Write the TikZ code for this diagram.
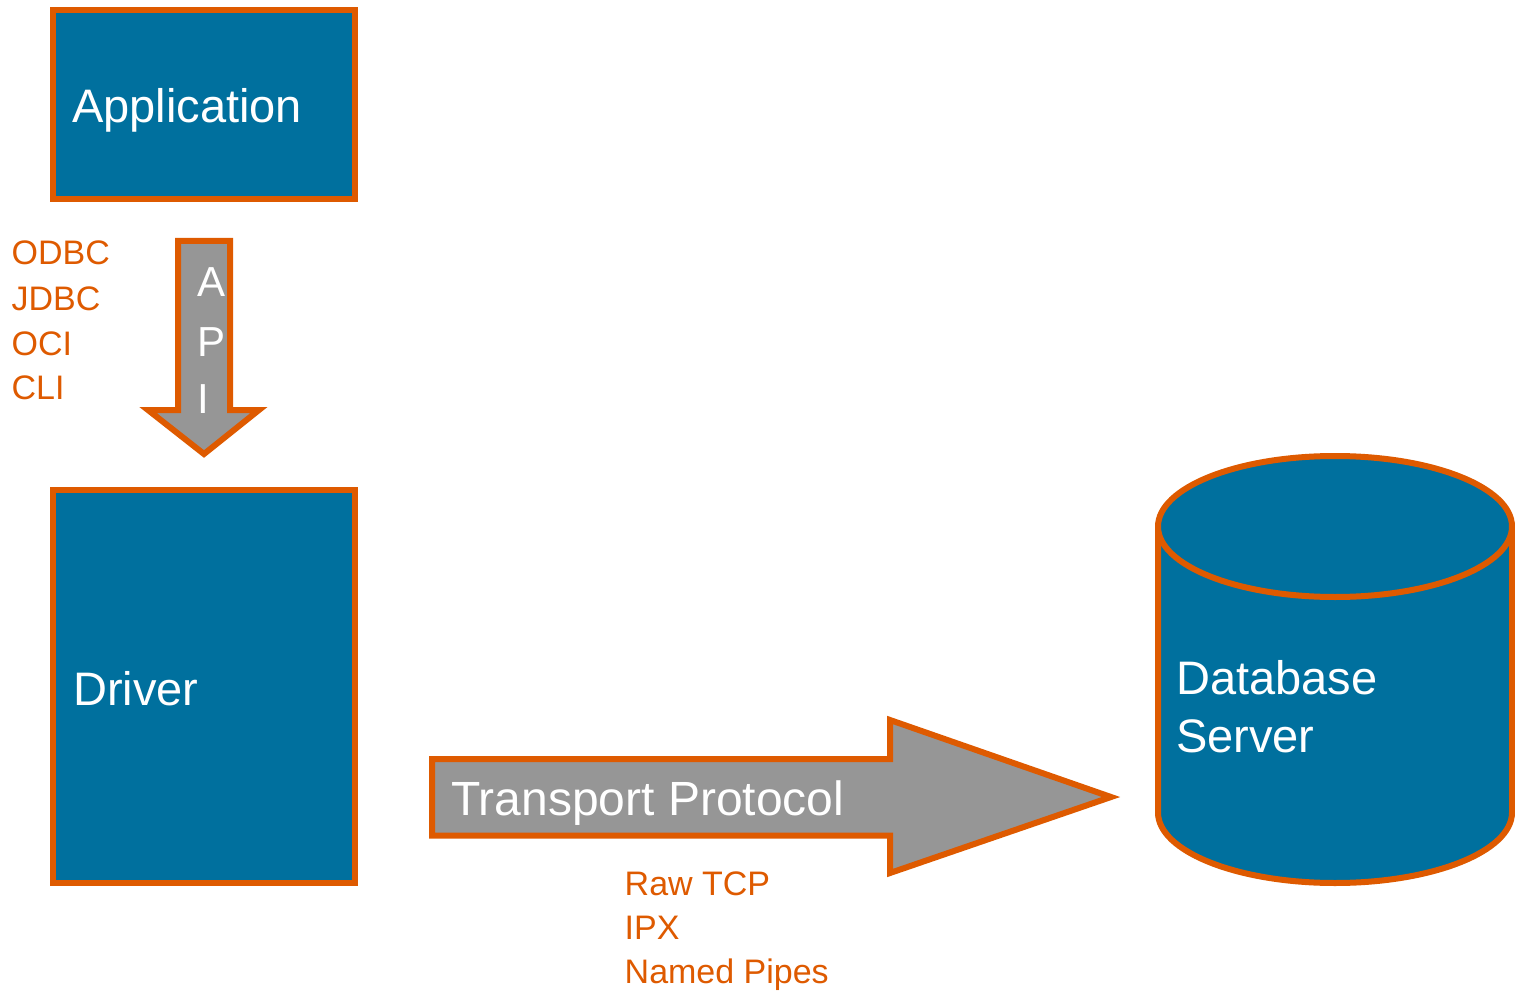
\documentclass[tikz,border=0pt]{standalone}
\usepackage{fontspec}
\setmainfont{Liberation Sans}
\definecolor{boxblue}{RGB}{0,112,158}
\definecolor{rimorange}{RGB}{222,90,0}
\definecolor{arrowgray}{RGB}{150,150,150}
\begin{document}
\begin{tikzpicture}[x=1pt,y=-1pt,
  rim/.style={draw=rimorange,line width=6pt,line join=miter},
  blockbox/.style={rim,fill=boxblue,inner sep=0pt,outer sep=0pt,anchor=north west},
  blockarrow/.style={rim,fill=arrowgray},
  bigtext/.style={text=white,inner sep=0pt,anchor=base west,font=\fontsize{47}{56}\selectfont},
  apitext/.style={text=white,inner sep=0pt,anchor=base west,font=\fontsize{42}{50}\selectfont},
  smalltext/.style={text=rimorange,inner sep=0pt,anchor=base west,font=\fontsize{34}{40}\selectfont}]
\useasboundingbox (0,0) rectangle (1515,992);

% Application and driver boxes
\node[blockbox,minimum width=302pt,minimum height=189pt] (app) at (53,10) {};
\node[bigtext] (applbl) at (72,123) {Application};
\node[blockbox,minimum width=302pt,minimum height=393pt] (drv) at (53,490) {};
\node[bigtext] (drvlbl) at (73,705) {Driver};

% API block arrow between them
\coordinate (apitip) at (204,454);
\draw[blockarrow] (178,241) -- (230,241) -- (230,410) -- (259,410)
  -- (apitip) -- (148,410) -- (178,410) -- cycle;
\node[apitext] (apiA) at (197,297) {A};
\node[apitext] (apiP) at (197,356) {P};
\node[apitext] (apiI) at (197,413) {I};

% API flavours
\node[smalltext] (odbc) at (11.5,265) {ODBC};
\node[smalltext] (jdbc) at (11.5,310) {JDBC};
\node[smalltext] (oci)  at (11.5,355) {OCI};
\node[smalltext] (cli)  at (11.5,399) {CLI};

% Database server cylinder
\coordinate (dbtop) at (1335,526.5);
\coordinate (dbbot) at (1335,812.5);
\fill[boxblue] (1158,526.5) -- (1158,812.5)
  arc[start angle=180,end angle=360,x radius=177pt,y radius=70.5pt]
  -- (1512,526.5) -- cycle;
\draw[rim] (1158,526.5) -- (1158,812.5)
  arc[start angle=180,end angle=360,x radius=177pt,y radius=70.5pt]
  -- (1512,526.5);
\draw[rim,fill=boxblue] (dbtop) ellipse[x radius=177pt,y radius=70.5pt];
\node[bigtext] (dbl1) at (1176,694) {Database};
\node[bigtext] (dbl2) at (1176,752) {Server};

% Transport protocol block arrow
\coordinate (tptip) at (1111,797);
\draw[blockarrow] (432,759) -- (890,759) -- (890,720) -- (tptip)
  -- (890,873) -- (890,835.5) -- (432,835.5) -- cycle;
\node[bigtext,font=\fontsize{48}{56}\selectfont] (tplbl) at (451,815) {Transport Protocol};

% Transport flavours
\node[smalltext] (rawtcp) at (624.5,895) {Raw TCP};
\node[smalltext] (ipx)    at (624.5,939) {IPX};
\node[smalltext] (pipes)  at (624.5,983) {Named Pipes};
\end{tikzpicture}
\end{document}
